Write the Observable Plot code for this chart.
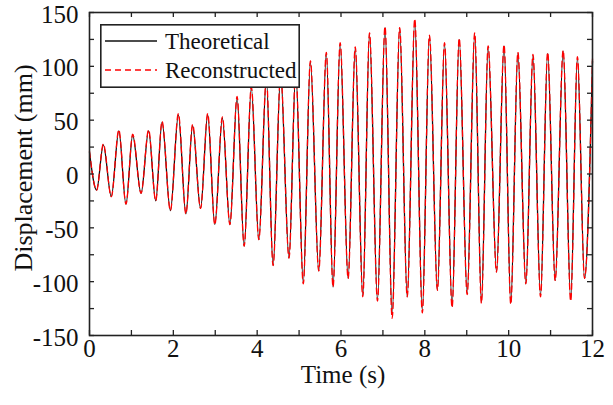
<!DOCTYPE html>
<html><head><meta charset="utf-8">
<script src="https://cdn.jsdelivr.net/npm/d3@7"></script>
<script src="https://cdn.jsdelivr.net/npm/@observablehq/plot@0.6"></script>
<style>
html,body{margin:0;padding:0;background:#fff;}
#wrap{position:relative;width:613px;height:405px;}
#wrap svg text{font-family:"Liberation Serif","Times New Roman",serif;}
#legend{position:absolute;left:100px;top:24px;}
</style></head><body>
<div id="wrap"></div>
<script>
const time = [0, 0.17, 0.33, 0.52, 0.70, 0.87, 1.03, 1.23, 1.41, 1.58, 1.73, 1.93, 2.12, 2.30, 2.46, 2.65, 2.82, 2.99, 3.17, 3.35, 3.52, 3.69, 3.86, 4.04, 4.22, 4.38, 4.56, 4.76, 4.92, 5.10, 5.27, 5.47, 5.65, 5.81, 5.98, 6.17, 6.34, 6.52, 6.68, 6.87, 7.05, 7.22, 7.40, 7.58, 7.76, 7.94, 8.11, 8.30, 8.47, 8.65, 8.82, 9.01, 9.19, 9.35, 9.51, 9.71, 9.89, 10.05, 10.22, 10.41, 10.58, 10.76, 10.93, 11.11, 11.30, 11.48, 11.64, 11.81, 12.0];
const theoretical = [20, -15, 27, -21, 40, -28, 36, -18, 40, -25, 48, -34, 55, -37, 45, -32, 55, -47, 52, -47, 71, -67, 80, -61, 88, -85, 92, -78, 95, -101, 104, -90, 112, -105, 121, -97, 117, -113, 130, -117, 136, -131, 135, -114, 142, -127, 128, -108, 121, -123, 125, -111, 130, -119, 118, -91, 119, -120, 112, -102, 110, -113, 112, -99, 114, -116, 108, -97, 105];
const reconstructed = [21, -15, 28, -21, 41, -28, 37, -18, 41, -25, 49, -34, 56, -37, 46, -32, 56, -47, 53, -47, 72, -67, 81, -61, 89, -85, 93, -78, 96, -102, 105, -90, 113, -105, 122, -97, 118, -114, 131, -118, 137, -134, 136, -114, 144, -129, 129, -108, 122, -124, 126, -112, 131, -120, 119, -91, 120, -121, 113, -102, 111, -114, 113, -99, 115, -118, 109, -97, 107];
const xTicks = [0, 2, 4, 6, 8, 10, 12];
const xMinorTicks = [0, 1, 2, 3, 4, 5, 6, 7, 8, 9, 10, 11, 12];
const yTicks = [-150, -100, -50, 0, 50, 100, 150];
const yMinorTicks = [-150, -125, -100, -75, -50, -25, 0, 25, 50, 75, 100, 125, 150];
const seriesNames = ["Theoretical", "Reconstructed"];
const xLabel = "Time (s)";
const yLabel = "Displacement (mm)";

const data = time.map((t, i) => ({t, theo: theoretical[i], rec: reconstructed[i]}));
const font = "Liberation Serif, Times New Roman, serif";
const W = 613, H = 405, mL = 89, mR = 21, mT = 12, mB = 70;
const pw = W - mL - mR, ph = H - mT - mB, tk = 5;

const chart = Plot.plot({
  width: W, height: H, marginLeft: mL, marginRight: mR, marginTop: mT, marginBottom: mB,
  style: {fontFamily: font, fontSize: "25px", background: "#fff", color: "#111", overflow: "visible"},
  x: {domain: [0, 12]},
  y: {domain: [-150, 150]},
  marks: [
    Plot.line(data, {x: "t", y: "theo", curve: "monotone-x", stroke: "#111", strokeWidth: 1.3}),
    Plot.line(data, {x: "t", y: "rec", curve: "monotone-x", stroke: "#ff0000", strokeWidth: 1.3, strokeDasharray: "6,4"}),
    Plot.tickX(xMinorTicks, {x: d => d, insetTop: ph - tk, stroke: "#222", strokeWidth: 1.3}),
    Plot.tickX(xMinorTicks, {x: d => d, insetBottom: ph - tk, stroke: "#222", strokeWidth: 1.3}),
    Plot.tickY(yMinorTicks, {y: d => d, insetRight: pw - tk, stroke: "#222", strokeWidth: 1.3}),
    Plot.tickY(yMinorTicks, {y: d => d, insetLeft: pw - tk, stroke: "#222", strokeWidth: 1.3}),
    Plot.axisX(xTicks, {anchor: "bottom", tickSize: 0, tickPadding: 4, fontSize: 25, tickFormat: d => String(d), label: null}),
    Plot.axisY(yTicks, {anchor: "left", tickSize: 0, tickPadding: 11, fontSize: 25, dy: 2, tickFormat: d => String(d), label: null}),
    Plot.text([xLabel], {text: d => d, frameAnchor: "bottom", textAnchor: "middle", dy: 47, fontSize: 25, lineAnchor: "bottom", dx: 2}),
    Plot.text([yLabel], {text: d => d, frameAnchor: "left", textAnchor: "middle", rotate: -90, dx: -66, dy: -6, fontSize: 26}),
    Plot.frame({stroke: "#222", strokeWidth: 1.6})
  ]
});
const wrap = document.getElementById("wrap");
wrap.appendChild(chart);

// legend
const ns = "http://www.w3.org/2000/svg";
const lg = document.createElementNS(ns, "svg");
lg.setAttribute("id", "legend");
lg.setAttribute("width", 200);
lg.setAttribute("height", 64);
const rect = document.createElementNS(ns, "rect");
rect.setAttribute("x", 0.8); rect.setAttribute("y", 0.8);
rect.setAttribute("width", 198.4); rect.setAttribute("height", 62.4);
rect.setAttribute("fill", "#fff"); rect.setAttribute("stroke", "#222"); rect.setAttribute("stroke-width", 1.6);
lg.appendChild(rect);
const styles = [{stroke: "#111", dash: null}, {stroke: "#ff0000", dash: "6,4"}];
seriesNames.forEach((name, i) => {
  const cy = 17 + i * 29;
  const ln = document.createElementNS(ns, "line");
  ln.setAttribute("x1", 5); ln.setAttribute("x2", 57);
  ln.setAttribute("y1", cy); ln.setAttribute("y2", cy);
  ln.setAttribute("stroke", styles[i].stroke); ln.setAttribute("stroke-width", 1.3);
  if (styles[i].dash) ln.setAttribute("stroke-dasharray", styles[i].dash);
  lg.appendChild(ln);
  const tx = document.createElementNS(ns, "text");
  tx.setAttribute("x", 65); tx.setAttribute("y", cy);
  tx.setAttribute("dy", "0.35em");
  tx.setAttribute("font-size", 23);
  tx.setAttribute("fill", "#111");
  tx.textContent = name;
  lg.appendChild(tx);
});
wrap.appendChild(lg);
</script>
</body></html>
